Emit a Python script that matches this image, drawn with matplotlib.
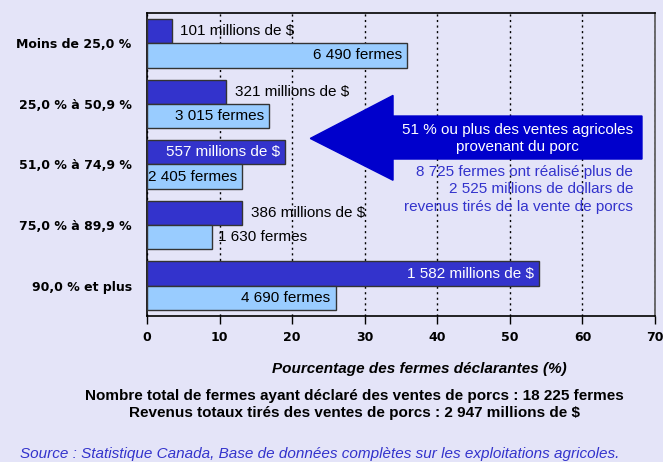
import numpy as np
import matplotlib.pyplot as plt
from matplotlib.patches import Polygon

categories = ['Moins de 25,0 %', '25,0 % à 50,9 %', '51,0 % à 74,9 %',
              '75,0 % à 89,9 %', '90,0 % et plus']
revenue_pct = [3.4, 10.9, 19.0, 13.1, 54.0]
farms_pct = [35.8, 16.8, 13.1, 9.0, 26.0]
revenue_labels = ['101 millions de $', '321 millions de $', '557 millions de $',
                  '386 millions de $', '1 582 millions de $']
farms_labels = ['6 490 fermes', '3 015 fermes', '2 405 fermes',
                '1 630 fermes', '4 690 fermes']
revenue_inside = [False, False, True, False, True]
farms_inside = [True, True, True, False, True]

bg = '#E4E4F8'
dark = '#3333CC'
light = '#99CCFF'

plt.rcParams['font.family'] = ['Liberation Sans', 'DejaVu Sans']

fig = plt.figure(figsize=(6.63, 4.62), dpi=100, facecolor=bg)
ax = fig.add_axes([0.2217, 0.316, 0.7663, 0.6559], facecolor=bg)

y = np.arange(len(categories))
h = 0.4
ax.barh(y - h / 2, revenue_pct, height=h, color=dark, edgecolor='#333333', linewidth=1, zorder=3)
ax.barh(y + h / 2, farms_pct, height=h, color=light, edgecolor='#333333', linewidth=1, zorder=3)

for i in range(len(categories)):
    v = revenue_pct[i]
    if revenue_inside[i]:
        ax.text(v - 0.7, y[i] - h / 2, revenue_labels[i], ha='right', va='center',
                color='white', fontsize=11, zorder=4)
    else:
        ax.text(v + 1.2, y[i] - h / 2, revenue_labels[i], ha='left', va='center',
                color='black', fontsize=11, zorder=4)
    v = farms_pct[i]
    if farms_inside[i]:
        ax.text(v - 0.7, y[i] + h / 2, farms_labels[i], ha='right', va='center',
                color='black', fontsize=11, zorder=4)
    else:
        ax.text(v + 0.8, y[i] + h / 2, farms_labels[i], ha='left', va='center',
                color='black', fontsize=11, zorder=4)

ax.set_xlim(0, 70)
ax.set_ylim(4.5, -0.5)
ax.set_xticks(range(0, 71, 10))
ax.set_yticks(y)
ax.set_yticklabels(categories, fontfamily='DejaVu Sans', fontweight='bold', fontsize=9)
for lab in ax.get_xticklabels():
    lab.set_fontfamily('DejaVu Sans')
    lab.set_fontweight('bold')
    lab.set_fontsize(9)
ax.tick_params(axis='y', length=0, pad=11)
ax.tick_params(axis='x', direction='out', length=6, width=1, pad=5)
ax.grid(axis='x', color='black', linestyle=(0, (1.5, 2.5)), linewidth=1, zorder=0)
ax.set_axisbelow(True)
for s in ['top', 'left', 'bottom']:
    ax.spines[s].set_color('black')
    ax.spines[s].set_linewidth(1.2)
ax.spines['right'].set_color('#555555')
ax.spines['right'].set_linewidth(1.2)

# arrow annotation
arrow = Polygon([[22.5, 1.57], [33.9, 0.86], [33.9, 1.2], [68.2, 1.2],
                 [68.2, 1.91], [33.9, 1.91], [33.9, 2.26]],
                closed=True, facecolor='#0000CC', edgecolor='#0000CC', zorder=5)
ax.add_patch(arrow)
ax.text(51.1, 1.57, '51 % ou plus des ventes agricoles\nprovenant du porc',
        ha='center', va='center', color='white', fontsize=11, zorder=6)
ax.text(67.0, 2.41, '8 725 fermes ont réalisé plus de\n2 525 millions de dollars de\n'
        'revenus tirés de la vente de porcs',
        ha='right', va='center', multialignment='right', color='#3333CC',
        fontsize=11, zorder=6, linespacing=1.3)

ax.set_xlabel('Pourcentage des fermes déclarantes (%)', fontsize=11,
              fontweight='bold', fontstyle='italic')
ax.xaxis.set_label_coords(0.537, -0.175)
ax.xaxis.label.set_va('center')

fig.text(0.535, 0.124, 'Nombre total de fermes ayant déclaré des ventes de porcs : 18 225 fermes\n'
         'Revenus totaux tirés des ventes de porcs : 2 947 millions de $',
         ha='center', va='center', fontsize=11, fontweight='bold', linespacing=1.3)
fig.text(0.03, 0.018, 'Source : Statistique Canada, Base de données complètes sur les exploitations agricoles.',
         ha='left', va='center', fontsize=11, fontstyle='italic', color='#3333CC')

fig.savefig('out.png', dpi=100, facecolor=bg)
